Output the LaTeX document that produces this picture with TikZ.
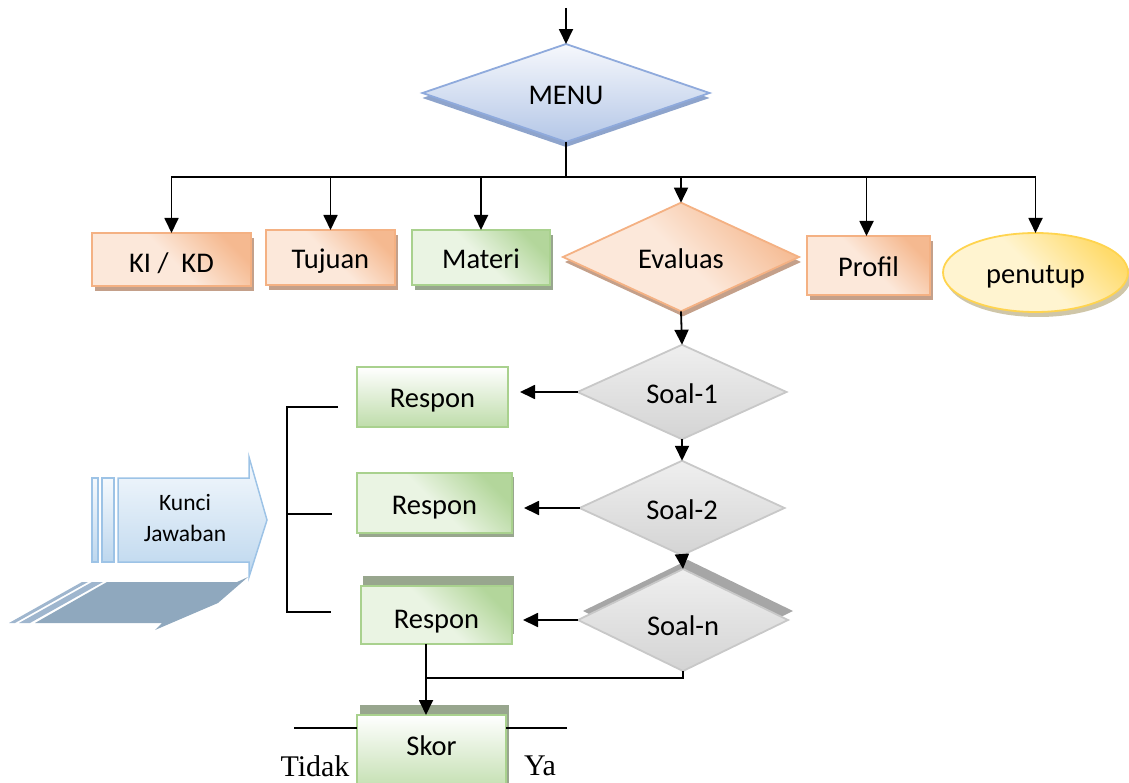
\documentclass[tikz,border=0pt]{standalone}
\usepackage{fontspec}
\setmainfont{Carlito}
\newfontfamily\serifTN{Liberation Serif}
\usetikzlibrary{shapes.geometric,shadows,arrows.meta,calc}
\definecolor{orL}{HTML}{FCE8DA}
\definecolor{orD}{HTML}{F4B183}
\definecolor{orB}{HTML}{F4B183}
\definecolor{orS}{HTML}{C4A08A}
\definecolor{grL}{HTML}{EAF4E3}
\definecolor{grD}{HTML}{A9D18E}
\definecolor{grS}{HTML}{98A68E}
\definecolor{gyL}{HTML}{EFEFEF}
\definecolor{gyD}{HTML}{D4D4D4}
\definecolor{gyB}{HTML}{C8C8C8}
\definecolor{gyS}{HTML}{A6A6A6}
\definecolor{blL}{HTML}{F6F8FC}
\definecolor{blD}{HTML}{B4C7E7}
\definecolor{blB}{HTML}{8FAADC}
\definecolor{blS}{HTML}{8EA4CC}
\definecolor{ylL}{HTML}{FFF4D0}
\definecolor{ylD}{HTML}{FFDB6B}
\definecolor{ylB}{HTML}{FFD44F}
\definecolor{ylS}{HTML}{CFC6A8}
\definecolor{kL}{HTML}{F5F9FD}
\definecolor{kD}{HTML}{BDD7EE}
\definecolor{kB}{HTML}{9DC3E6}
\definecolor{kS}{HTML}{8FA8BE}
\definecolor{kS2}{HTML}{9FB6CE}
\begin{document}
\begin{tikzpicture}[x=1pt,y=-1pt,
  conn/.style={line width=1.8pt, draw=black},
  arr/.style={conn, -{Triangle[length=15pt,width=14pt]}},
  base/.style={font=\fontsize{28.5}{32}\selectfont, inner sep=0pt, outer sep=0pt, line width=1.8pt,
     text height=23pt, text depth=0pt},
  obox/.style={base, rectangle, draw=orB, top color=orD!85!orL, bottom color=orL, middle color=orL, shading angle=-45,
     drop shadow={shadow xshift=3pt, shadow yshift=-5pt, fill=orS, opacity=1}},
  gbox/.style={base, rectangle, draw=grD, top color=grD!85!grL, bottom color=grL, middle color=grL, shading angle=-45},
  gvbox/.style={base, rectangle, draw=grD, top color=white, bottom color=grD!75},
  gdia/.style={base, diamond, aspect=1, draw=gyB, top color=gyL, bottom color=gyD},
]
\useasboundingbox (0,0) rectangle (1129,783);
\clip (0,0) rectangle (1129,783);

% MENU
\node[base, diamond, aspect=1, minimum width=287, minimum height=93, draw=blB,
  top color=blL, bottom color=blD,
  drop shadow={shadow xshift=0pt, shadow yshift=-5pt, fill=blS, opacity=1}] (menu) at (566,93) {MENU};

% first row
\node[obox, minimum width=159, minimum height=53, text height=27pt] (ki) at (171.5,259.5) {KI /~~KD};
\node[obox, minimum width=129, minimum height=55] (tuj) at (330.5,257.5) {Tujuan};
\node[gbox, minimum width=138, minimum height=55,
  drop shadow={shadow xshift=3pt, shadow yshift=-5pt, fill=grS, opacity=1}] (mat) at (481,257.5) {Materi};
\node[base, diamond, aspect=1, minimum width=236, minimum height=90, draw=orB,
  top color=orD!85!orL, bottom color=orL, middle color=orL, shading angle=-45,
  drop shadow={shadow xshift=2pt, shadow yshift=-5pt, fill=orS, opacity=1}] (ev) at (681,257) {Evaluas};
\node[obox, minimum width=123, minimum height=59] (prof) at (868.5,265.5) {Profil};
\node[base, ellipse, minimum width=185, minimum height=79, draw=ylB,
  top color=ylD, bottom color=ylL, middle color=ylL, shading angle=-45,
  drop shadow={shadow xshift=3pt, shadow yshift=-5pt, fill=ylS, opacity=1}] (pen) at (1035.5,272.5) {penutup};

% soal diamonds
\node[gdia, minimum width=209, minimum height=90] (s1) at (682,392) {Soal-1};
\node[gdia, minimum width=205, minimum height=85] (s2) at (682,508) {Soal-2};
\node[gdia, minimum width=210, minimum height=84, text height=30pt,
  drop shadow={shadow xshift=5pt, shadow yshift=9pt, fill=gyS, opacity=1}] (sn) at (683,620) {Soal-n};

% respon boxes
\node[gvbox, minimum width=151, minimum height=60, text height=20pt] (r1) at (432.5,397) {Respon};
\node[gbox, minimum width=155, minimum height=60,
  drop shadow={shadow xshift=2pt, shadow yshift=-4pt, fill=grS, opacity=1}] (r2) at (434.5,503) {Respon};
\node[gbox, minimum width=151, minimum height=58, text height=26pt,
  drop shadow={shadow xshift=2pt, shadow yshift=10pt, fill=grS, opacity=1}] (r3) at (436.5,615) {Respon};
\node[gvbox, minimum width=149, minimum height=80, text height=23pt, text depth=23pt,
  drop shadow={shadow xshift=3pt, shadow yshift=10pt, fill=grS, opacity=1}] (skor) at (431.5,755) {Skor};

% Tidak / Ya
\node[font=\serifTN\fontsize{30}{34}\selectfont, inner sep=0pt] (tidak) at (315,766) {Tidak};
\node[font=\serifTN\fontsize{30}{34}\selectfont, inner sep=0pt] (ya) at (540,766) {Ya};

% Kunci Jawaban block
\fill[kS2] (82,582) -- (88,582) -- (15,623) -- (9,623) -- cycle;
\fill[kS2] (92,582) -- (103,582) -- (30,623) -- (19,623) -- cycle;
\fill[kS] (107,582) -- (237,582) -- (248,577) -- (218,603) -- (155,630) -- (162,623) -- (35,623) -- cycle;
\draw[kB, line width=1.5pt, top color=kL, bottom color=kD] (92,478) rectangle (98,562);
\draw[kB, line width=1.5pt, top color=kL, bottom color=kD] (102,478) rectangle (114,562);
\draw[kB, line width=1.5pt, top color=kL, bottom color=kD]
  (118,478) -- (249,478) -- (249,457) -- (267,520) -- (249,577) -- (249,562) -- (118,562) -- cycle;
\node[font=\fontsize{23.5}{31}\selectfont, align=center, inner sep=0pt] (kunci) at (185,518) {Kunci\\Jawaban};

% connectors
\coordinate (top) at (566,8);
\coordinate (bus) at (566,177);
\draw[arr] (top) -- (menu.north);
\draw[conn] (menu.south) -- (bus);
\draw[arr] (bus) -| (ki.north);
\draw[arr] (bus) -| (tuj.north);
\draw[arr] (bus) -| (mat.north);
\draw[arr] (bus) -| (ev.north);
\draw[arr] (bus) -| ([xshift=-2pt]prof.north);
\draw[arr] (bus) -| (pen.north);

\draw[arr] (ev.south) -- (s1.north);
\draw[arr] (s1.south) -- (s2.north);
\draw[arr] (s2.south) -- (sn.north);

\draw[arr, shorten >=12pt] (s1.west) -- (s1.west -| r1.east);
\draw[arr, shorten >=12pt] (s2.west) -- (s2.west -| r2.east);
\draw[arr, shorten >=11pt] (sn.west) -- (sn.west -| r3.east);

\coordinate (mg) at (426,678);
\draw[conn] (sn.south) |- (mg);
\draw[arr] (mg |- r3.south) -- (mg |- skor.north);

% bracket
\coordinate (bt) at (287,407);
\coordinate (bm) at (287,514);
\coordinate (bb) at (287,612);
\coordinate (et) at (338,407);
\coordinate (em) at (332,514);
\coordinate (eb) at (331,612);
\draw[conn] (et) -- (bt) -- (bb) -- (eb);
\draw[conn] (bm) -- (em);

% skor side lines
\coordinate (sl) at (294,728);
\coordinate (sr) at (567,728);
\draw[conn] (sl) -- (sl -| skor.west);
\draw[conn] (sr) -- (sr -| skor.east);
\end{tikzpicture}
\end{document}
